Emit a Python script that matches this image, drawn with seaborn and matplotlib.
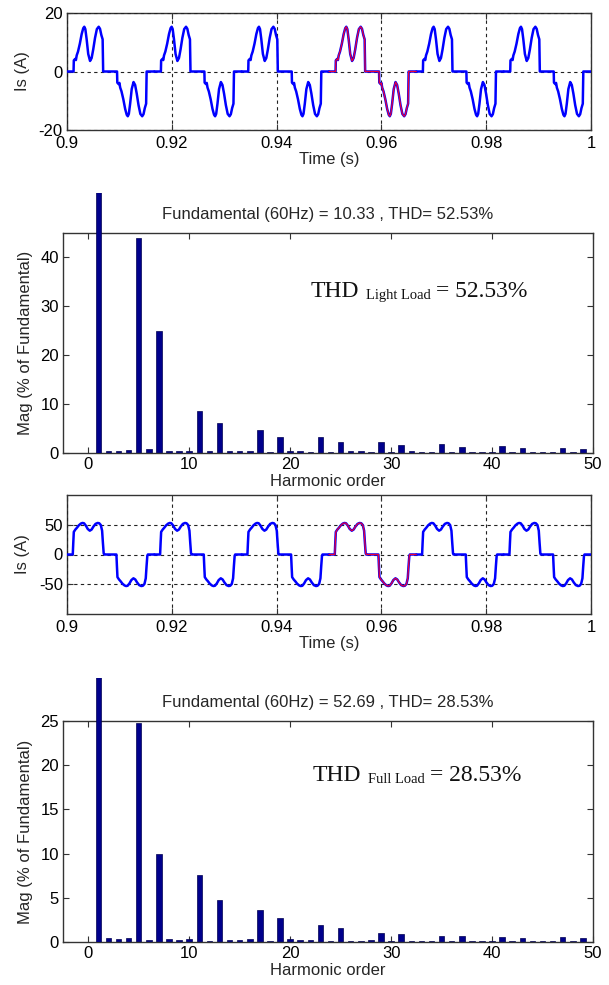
import numpy as np
import pandas as pd
import matplotlib
matplotlib.use("Agg")
import matplotlib.pyplot as plt
import seaborn as sns
from matplotlib.transforms import Bbox, TransformedBbox

# ---------------- data ----------------
# one fundamental cycle (60 Hz) of the source current, time in ms from cycle start
LIGHT_T_MS = [0.0, 1.25, 1.30, 1.55, 1.70, 1.85, 2.10, 2.45, 2.80, 3.10, 3.30, 3.50,
              3.75, 4.05, 4.40, 4.70, 5.00, 5.35, 5.70, 6.05, 6.30, 6.55, 6.80, 6.90,
              9.55, 9.60, 9.85, 10.00, 10.15, 10.40, 10.75, 11.10, 11.40, 11.60, 11.80,
              12.05, 12.35, 12.70, 13.00, 13.30, 13.65, 14.00, 14.35, 14.60, 14.85,
              15.10, 15.20, 16.667]
LIGHT_I = [0.0, 0.0, 3.8, 4.3, 3.9, 5.5, 6.8, 9.5, 12.8, 14.8, 15.3, 14.5,
           11.0, 6.0, 3.6, 4.6, 7.5, 11.5, 14.5, 15.3, 14.6, 12.5, 11.0, 0.0,
           0.0, -3.8, -4.3, -3.9, -5.5, -6.8, -9.5, -12.8, -14.8, -15.3, -14.5,
           -11.0, -6.0, -3.6, -4.6, -7.5, -11.5, -14.5, -15.3, -14.6, -12.5,
           -11.0, 0.0, 0.0]

FULL_T_MS = [0.0, 1.10, 1.20, 1.30, 1.60, 1.90, 2.25, 2.65, 2.95, 3.25, 3.60, 3.95,
             4.35, 4.70, 5.05, 5.45, 5.85, 6.15, 6.45, 6.70, 6.85, 7.00, 7.10,
             9.43, 9.53, 9.63, 9.93, 10.23, 10.58, 10.98, 11.28, 11.58, 11.93, 12.28,
             12.68, 13.03, 13.38, 13.78, 14.18, 14.48, 14.78, 15.03, 15.18, 15.33,
             15.43, 16.667]
FULL_I = [0.0, 0.0, 20.0, 38.0, 42.0, 45.0, 49.0, 52.0, 53.0, 52.5, 48.5, 43.0,
          40.0, 42.0, 47.0, 51.5, 53.0, 52.5, 49.5, 40.0, 20.0, 2.0, 0.0,
          0.0, -20.0, -38.0, -42.0, -45.0, -49.0, -52.0, -53.0, -52.5, -48.5, -43.0,
          -40.0, -42.0, -47.0, -51.5, -53.0, -52.5, -49.5, -40.0, -20.0, -2.0,
          0.0, 0.0]

T_START = 0.9
N_CYCLES = 6
F_FUND = 60.0
FFT_CYCLE = 3          # cycle highlighted in red (0.95 s - 0.9667 s)

HARMONICS = list(range(0, 50))
LIGHT_MAG = [0.05, 100.0, 0.45, 0.40, 0.55, 43.9, 0.75, 25.0, 0.35, 0.35,
             0.35, 8.6, 0.35, 6.1, 0.35, 0.35, 0.35, 4.8, 0.15, 3.2,
             0.35, 0.35, 0.25, 3.2, 0.15, 2.2, 0.35, 0.35, 0.25, 2.3,
             0.15, 1.65, 0.35, 0.2, 0.2, 1.75, 0.2, 1.3, 0.2, 0.2,
             0.2, 1.45, 0.2, 1.1, 0.2, 0.2, 0.2, 1.1, 0.2, 0.9]
FULL_MAG = [0.05, 100.0, 0.45, 0.30, 0.40, 24.8, 0.25, 9.9, 0.30, 0.25,
            0.30, 7.55, 0.10, 4.75, 0.25, 0.25, 0.30, 3.65, 0.10, 2.75,
            0.30, 0.25, 0.25, 1.95, 0.10, 1.55, 0.10, 0.10, 0.20, 1.05,
            0.10, 0.85, 0.10, 0.10, 0.10, 0.65, 0.10, 0.65, 0.10, 0.10,
            0.10, 0.55, 0.10, 0.45, 0.10, 0.10, 0.10, 0.55, 0.10, 0.45]

TIME_TICKS = [0.9, 0.92, 0.94, 0.96, 0.98, 1.0]
TIME_TICK_LABELS = ["0.9", "0.92", "0.94", "0.96", "0.98", "1"]
HARM_TICKS = [0, 10, 20, 30, 40, 50]
LIGHT_YTICKS = [-20, 0, 20]
FULL_YTICKS = [-50, 0, 50]
LIGHT_BAR_YTICKS = [0, 10, 20, 30, 40]
FULL_BAR_YTICKS = [0, 5, 10, 15, 20, 25]

LIGHT_TITLE = "Fundamental (60Hz) = 10.33 , THD= 52.53%"
FULL_TITLE = "Fundamental (60Hz) = 52.69 , THD= 28.53%"
LIGHT_THD = ("THD", "Light Load", "= 52.53%")
FULL_THD = ("THD", "Full Load", "= 28.53%")

# ---------------- style ----------------
sns.set_theme(style="ticks")
plt.rcParams["font.family"] = ["Liberation Sans", "DejaVu Sans"]
plt.rcParams["font.size"] = 12
plt.rcParams["axes.linewidth"] = 1.0
plt.rcParams["axes.edgecolor"] = "#333333"
plt.rcParams["axes.unicode_minus"] = False

W, H = 609, 985
fig = plt.figure(figsize=(W / 100, H / 100), dpi=100)
fig.patch.set_facecolor("white")


def ax_at(left, top, right, bottom):
    return fig.add_axes([left / W, 1 - bottom / H, (right - left) / W, (bottom - top) / H])


def wave_frame(t_ms, vals):
    parts = []
    for k in range(N_CYCLES):
        t0 = T_START + k / F_FUND
        parts.append(pd.DataFrame({"t": [t0 + v / 1000.0 for v in t_ms],
                                   "i": vals, "cycle": k}))
    return pd.concat(parts, ignore_index=True)


GRID_KW = dict(color="#222222", linestyle=(0, (3, 3)), linewidth=0.8)


def style_common(ax, pad=3):
    ax.tick_params(direction="in", top=True, right=True, length=4, width=0.8,
                   labelsize=12, pad=pad, colors="#333333", labelcolor="black")
    for s in ax.spines.values():
        s.set_color("#333333")
        s.set_linewidth(1.0)


def wave_panel(ax, t_ms, vals, ylim, yticks):
    df = wave_frame(t_ms, vals)
    sns.lineplot(data=df, x="t", y="i", units="cycle", estimator=None, sort=False,
                 color="#0000ff", linewidth=1.8, ax=ax, zorder=3)
    sub = df[df["cycle"] == FFT_CYCLE]
    sns.lineplot(data=sub, x="t", y="i", estimator=None, sort=False,
                 color="#e8003a", linewidth=0.9, ax=ax, zorder=4)
    ax.set_xlim(T_START, T_START + N_CYCLES / F_FUND)
    ax.set_ylim(*ylim)
    ax.set_xticks(TIME_TICKS)
    ax.set_xticklabels(TIME_TICK_LABELS)
    ax.set_yticks(yticks)
    ax.xaxis.grid(True, **GRID_KW)
    ax.yaxis.grid(True, **GRID_KW)
    ax.set_axisbelow(False)
    for ln in ax.get_xgridlines() + ax.get_ygridlines():
        ln.set_zorder(2)
    ax.set_xlabel("Time (s)", fontsize=12, labelpad=1)
    ax.set_ylabel("Is (A)", fontsize=12, labelpad=6)
    style_common(ax)
    ax.tick_params(axis="x", pad=4)


def bar_panel(ax, mags, ylim, yticks, title, thd, thd_pos, over):
    df = pd.DataFrame({"h": HARMONICS, "m": mags})
    sns.barplot(data=df, x="h", y="m", native_scale=True, width=0.55,
                color="#00008c", saturation=1, errorbar=None,
                edgecolor="#000050", linewidth=0.5, ax=ax)
    ax.set_xlim(-2.5, 50)
    ax.set_ylim(*ylim)
    ax.set_xticks(HARM_TICKS)
    ax.set_xticklabels([str(v) for v in HARM_TICKS])
    ax.set_yticks(yticks)
    ax.set_xlabel("Harmonic order", fontsize=12, labelpad=1)
    ax.set_ylabel("Mag (% of Fundamental)", fontsize=12, labelpad=5)
    ax.set_title(title, fontsize=12, pad=10)
    style_common(ax)
    # the fundamental bar runs out of the top of the frame, as in the original figure
    top = max(p.get_height() for p in ax.patches)
    for p in ax.patches:
        if p.get_height() == top:
            p.set_clip_box(TransformedBbox(Bbox([[0, 0], [1, over]]), ax.transAxes))
            p.set_zorder(5)
    serif = ["Liberation Serif", "DejaVu Serif"]
    t1 = ax.text(thd_pos[0], thd_pos[1], thd[0], transform=ax.transAxes,
                 fontsize=17, family=serif, va="baseline", ha="left", color="#111111")
    t2 = ax.annotate(thd[1], xy=(1, 0), xycoords=t1, xytext=(5, -0.5),
                     textcoords="offset points", fontsize=10.5, family=serif,
                     va="bottom", ha="left", color="#111111")
    ax.annotate(thd[2], xy=(1, 0), xycoords=t2, xytext=(3.5, 0.5),
                textcoords="offset points", fontsize=17, family=serif,
                va="bottom", ha="left", color="#111111")


ax1 = ax_at(67, 13, 591, 130)
wave_panel(ax1, LIGHT_T_MS, LIGHT_I, (-20, 20), LIGHT_YTICKS)

ax2 = ax_at(63, 233, 593, 453)
bar_panel(ax2, LIGHT_MAG, (0, 45), LIGHT_BAR_YTICKS, LIGHT_TITLE, LIGHT_THD,
          (0.468, 0.71), 1.18)

ax3 = ax_at(67, 495, 591, 614)
wave_panel(ax3, FULL_T_MS, FULL_I, (-100, 100), FULL_YTICKS)

ax4 = ax_at(63, 721, 593, 942)
bar_panel(ax4, FULL_MAG, (0, 25), FULL_BAR_YTICKS, FULL_TITLE, FULL_THD,
          (0.471, 0.73), 1.195)

fig.savefig("out.png", dpi=100, facecolor="white")
